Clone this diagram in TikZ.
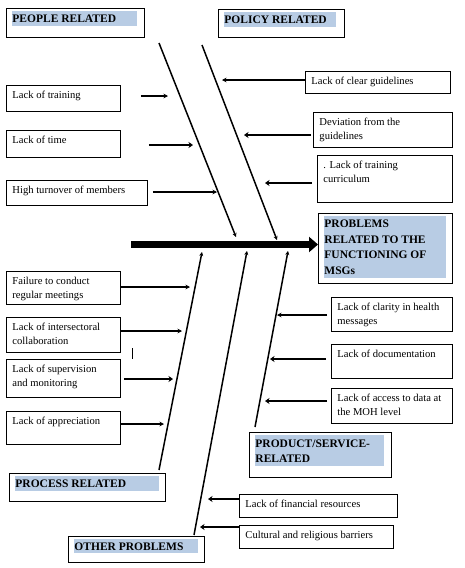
\documentclass[tikz,border=0pt]{standalone}
\usepackage{fontspec}
\setmainfont{Liberation Serif}
\usetikzlibrary{arrows.meta}
\definecolor{hl}{RGB}{184,204,228}
\newcommand{\tb}[3]{\parbox[c][\dimexpr#2-6pt\relax][t]{\dimexpr#1-12pt\relax}{\raggedright\strut#3}}
\newcommand{\hb}[5]{\parbox[c][\dimexpr#2-6pt\relax][t]{\dimexpr#1-12pt\relax}{\fboxsep=0pt\colorbox{hl}{\parbox[c][#4][c]{#3}{\raggedright\bfseries#5}}}}
\begin{document}
\begin{tikzpicture}[x=1pt,y=-1pt,cause/.style={draw,line width=.9pt,anchor=north west,inner xsep=6pt,inner ysep=3pt,font=\fontsize{10.6}{14}\selectfont},head/.style={cause,font=\fontsize{11.5}{15.5}\selectfont},a/.style={-{Stealth[length=4.5pt,width=4.5pt]},line width=1.4pt},ab/.style={a,-{Stealth[length=4.5pt,width=6pt]},line width=2.6pt},bone/.style={-{Stealth[length=4pt,width=4pt]},line width=1.5pt},spine/.style={-{Triangle[length=9pt,width=15pt]},line width=6.5pt}]
\useasboundingbox (0,0) rectangle (464,568);
\fill[white] (0,0) rectangle (464,568);
% category boxes
\node[head] (people) at (6,8) {\hb{138pt}{29pt}{125pt}{15pt}{PEOPLE RELATED}};
\node[head] (policy) at (218,9) {\hb{126pt}{28pt}{112pt}{15pt}{POLICY RELATED}};
\node[head] (problem) at (318,213) {\hb{134pt}{70pt}{122pt}{62pt}{PROBLEMS\\RELATED TO THE\\FUNCTIONING OF\\MSGs}};
\node[head] (process) at (9,473) {\hb{156pt}{28pt}{144pt}{15pt}{PROCESS RELATED}};
\node[head] (product) at (249,432) {\hb{142pt}{45pt}{129pt}{31pt}{PRODUCT/SERVICE-\\RELATED}};
\node[head] (other) at (68,536) {\hb{136pt}{26pt}{124pt}{14pt}{OTHER PROBLEMS}};
% causes
\node[cause] (train) at (6,85) {\tb{114pt}{26pt}{Lack of training}};
\node[cause] (time) at (6,130) {\tb{114pt}{27pt}{Lack of time}};
\node[cause] (turnover) at (6,180) {\tb{141pt}{25pt}{High turnover of members}};
\node[cause] (clear) at (305,71) {\tb{145pt}{22pt}{Lack of clear guidelines}};
\node[cause] (deviation) at (313,112) {\tb{139pt}{35pt}{Deviation from the\\guidelines}};
\node[cause] (curric) at (317,155) {\tb{135pt}{47pt}{. Lack of training\\curriculum}};
\node[cause] (meetings) at (6,271) {\tb{114pt}{33pt}{Failure to conduct\\regular meetings}};
\node[cause] (collab) at (6,317) {\tb{114pt}{35pt}{Lack of intersectoral\\collaboration}};
\node[cause] (superv) at (6,359) {\tb{114pt}{38pt}{Lack of supervision\\and monitoring}};
\node[cause] (apprec) at (6,411) {\tb{114pt}{33pt}{Lack of appreciation}};
\node[cause] (clarity) at (331,297) {\tb{121pt}{34pt}{Lack of clarity in health\\messages}};
\node[cause] (docs) at (331,344) {\tb{121pt}{34pt}{Lack of documentation}};
\node[cause] (access) at (331,388) {\tb{121pt}{35pt}{Lack of access to data at\\the MOH level}};
\node[cause] (finance) at (239,494) {\tb{158pt}{23pt}{Lack of financial resources}};
\node[cause] (culture) at (239,525) {\tb{154pt}{23pt}{Cultural and religious barriers}};
% bones
\coordinate (pb0) at (159,43); \coordinate (pb1) at (236,237);
\coordinate (qb0) at (202,45); \coordinate (qb1) at (277,240);
\coordinate (rb0) at (159,470); \coordinate (rb1) at (202,252);
\coordinate (ob0) at (194,535); \coordinate (ob1) at (247,251);
\coordinate (db0) at (255,427); \coordinate (db1) at (288,251);
\coordinate (tail) at (131,244.5);
\draw[spine] (tail) -- (tail -| problem.west);
\draw[bone] (pb0) -- (pb1); \draw[bone] (qb0) -- (qb1);
\draw[bone] (rb0) -- (rb1); \draw[bone] (ob0) -- (ob1); \draw[bone] (db0) -- (db1);
% arrow tips
\coordinate (t1) at (168,96); \coordinate (t2) at (193,145); \coordinate (t3) at (217,192);
\coordinate (t4) at (222,80); \coordinate (t5) at (244,135); \coordinate (t6) at (265,183);
\coordinate (t7) at (190,287); \coordinate (t8) at (182,331); \coordinate (t9) at (173,379);
\coordinate (t10) at (164,424); \coordinate (t11) at (277,315); \coordinate (t12) at (270,359);
\coordinate (t13) at (265,401); \coordinate (t14) at (208,499); \coordinate (t15) at (200,527);
\draw[a,shorten <=20pt] (train.east |- t1) -- (t1);
\draw[ab,shorten <=28pt] (time.east |- t2) -- (t2);
\draw[a,shorten <=5pt] (turnover.east |- t3) -- (t3);
\draw[a] (clear.west |- t4) -- (t4);
\draw[ab,shorten <=2pt] (deviation.west |- t5) -- (t5);
\draw[ab,shorten <=5pt] (curric.west |- t6) -- (t6);
\draw[a] (meetings.east |- t7) -- (t7);
\draw[a] (collab.east |- t8) -- (t8);
\draw[ab,shorten <=3pt] (superv.east |- t9) -- (t9);
\draw[a] (apprec.east |- t10) -- (t10);
\draw[a,shorten <=4pt] (clarity.west |- t11) -- (t11);
\draw[ab,shorten <=5pt] (docs.west |- t12) -- (t12);
\draw[ab,shorten <=4pt] (access.west |- t13) -- (t13);
\draw[ab] (finance.west |- t14) -- (t14);
\draw[ab] (culture.west |- t15) -- (t15);
\draw[line width=.8pt] (132,348) -- (132,359);
\end{tikzpicture}
\end{document}
